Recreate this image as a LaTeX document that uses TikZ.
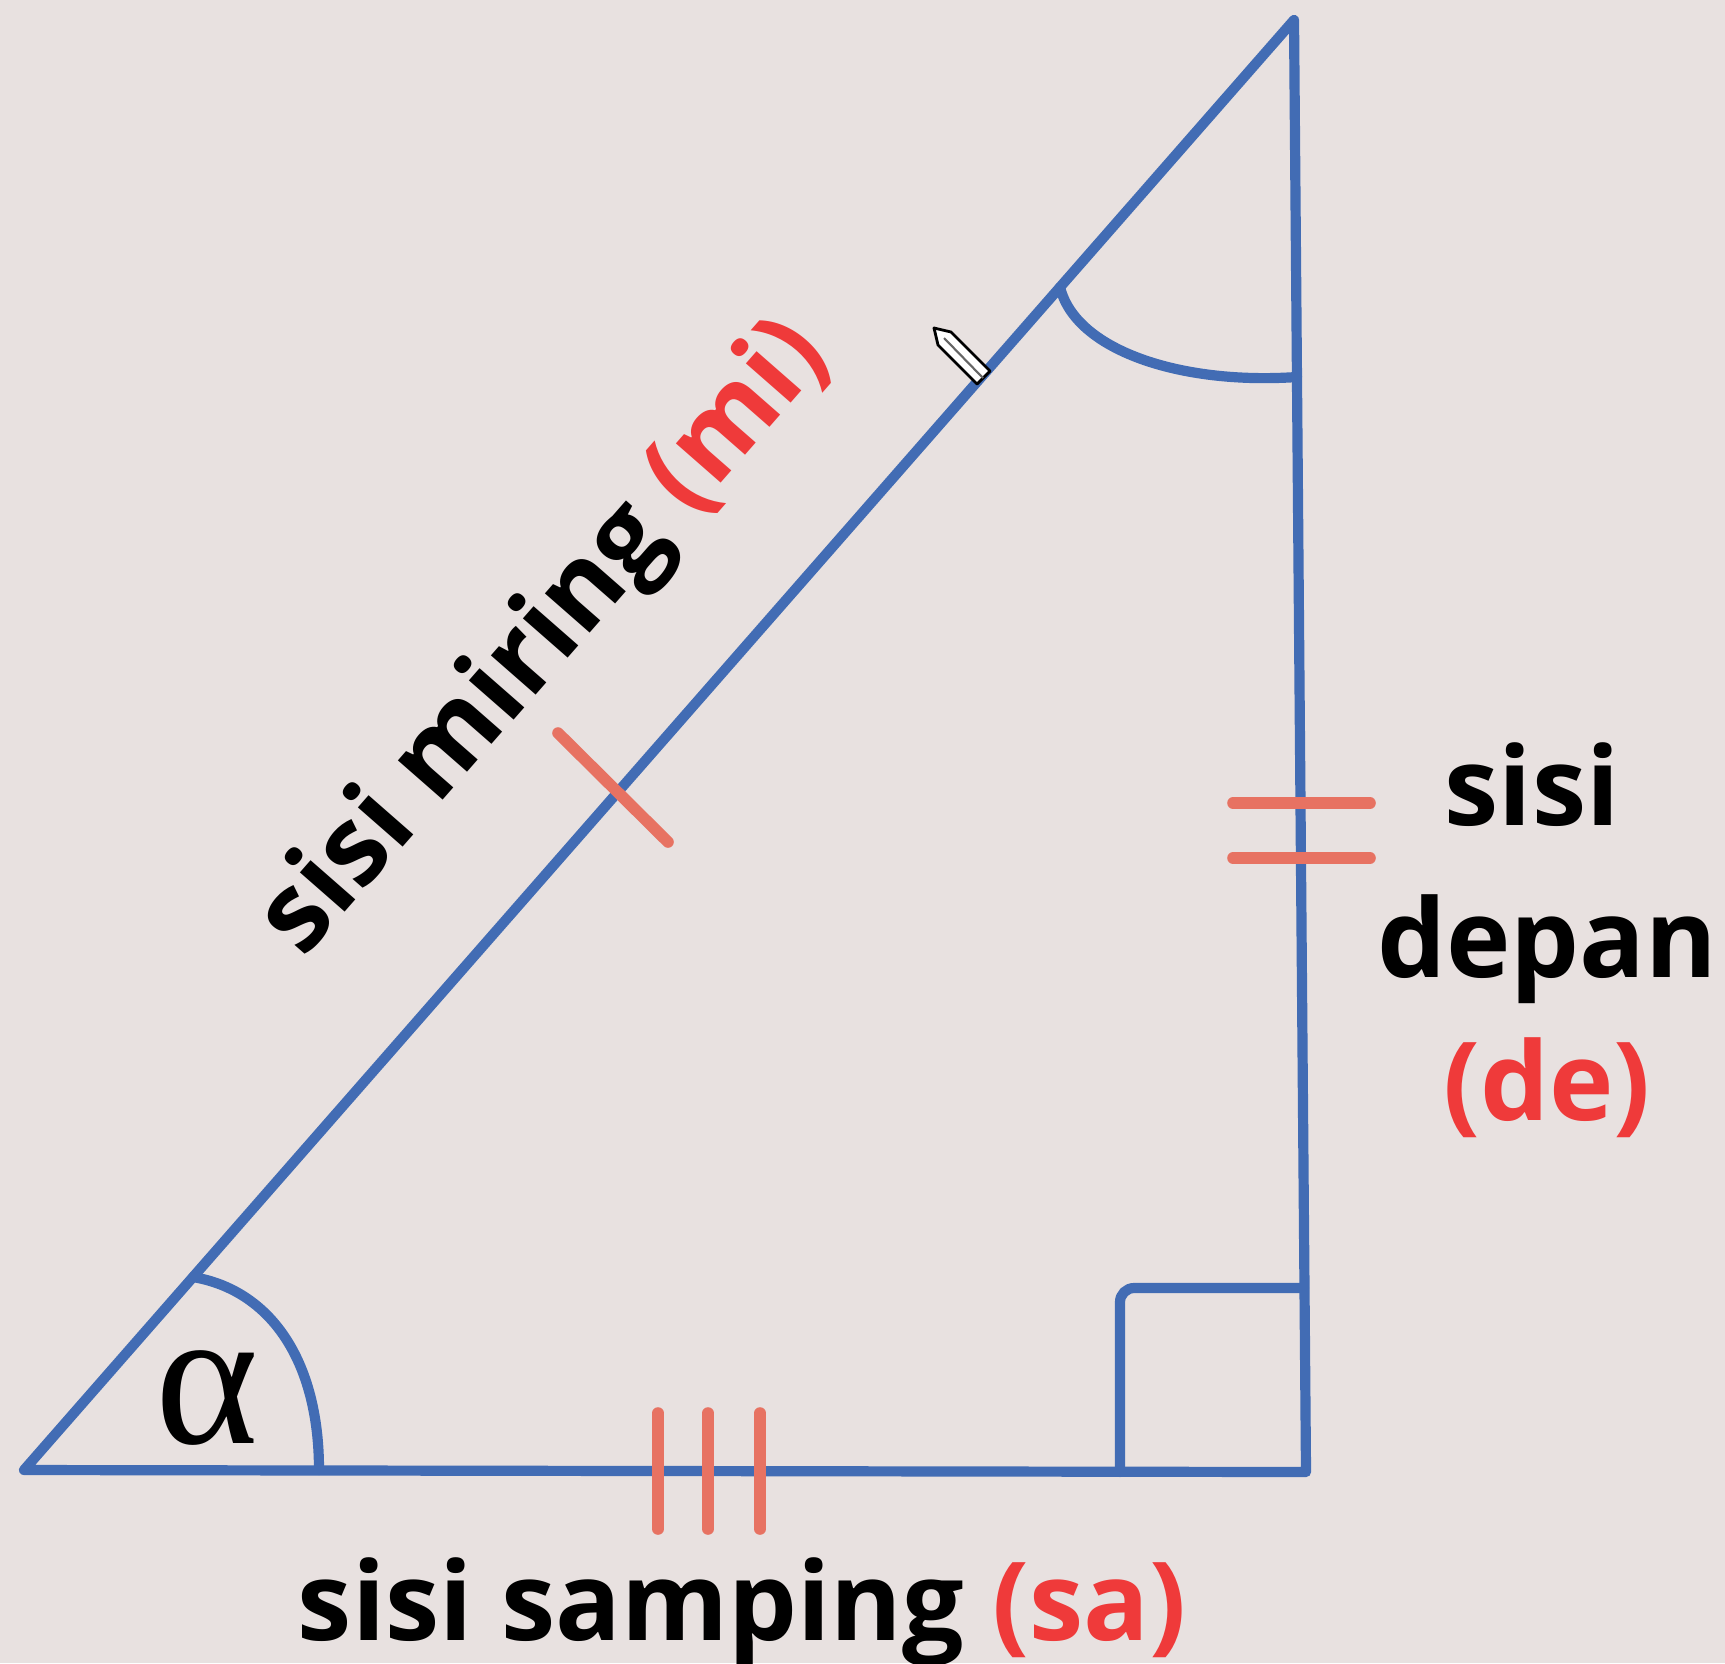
\documentclass[tikz,border=0pt]{standalone}
\usepackage{fontspec}
\setmainfont{Open Sans}
\newfontfamily\alphafont{Liberation Serif}
\usetikzlibrary{positioning,calc}

\definecolor{paper}{RGB}{232,225,224}
\definecolor{penblue}{RGB}{66,108,180}
\definecolor{marksalmon}{RGB}{231,114,98}
\definecolor{namered}{RGB}{239,58,58}

\begin{document}
\begin{tikzpicture}[
  x=0.01cm, y=-0.01cm,
  font=\fontsize{31}{44}\selectfont\bfseries,
  side/.style={draw=penblue, line width=2.9pt, line join=round, line cap=round},
  ticksign/.style={draw=marksalmon, line width=3.3pt, line cap=round},
  lbl/.style={inner sep=0pt, text=black}
]
\fill[paper] (0,0) rectangle (1725,1663);
\useasboundingbox (0,0) rectangle (1725,1663);

\coordinate (A) at (24,1470);
\coordinate (B) at (1294,20);
\coordinate (C) at (1306,1472);

% triangle and corner marks
\draw[side] (A) -- (B) -- (C) -- cycle;
\draw[side, rounded corners=4] (1120,1472) -- (1120,1288) -- (1304,1288);
\draw[side] (319,1470) .. controls (319,1360) and (270,1290) .. (193,1277);
\draw[side] (1060,287) .. controls (1075,350) and (1180,385) .. (1297,377);
\node[lbl, font=\alphafont\fontsize{56}{56}\selectfont, anchor=base] (alpha) at (207,1443) {α};

% equal-side ticks
\draw[ticksign] (558,733) -- (668,842);
\foreach \ty in {803,858}
  \draw[ticksign] (1233,\ty) -- (1370,\ty);
\foreach \tx in {658,708,760}
  \draw[ticksign] (\tx,1413) -- (\tx,1529);

% side names
\node[lbl, rotate=48.8, anchor=base] (miring) at (568,658) {sisi miring \textcolor{namered}{(mi)}};
\node[lbl, anchor=base] (samping) at (742,1640) {sisi samping \textcolor{namered}{(sa)}};
\node[lbl, anchor=base] (sisiDe) at (1532,825) {sisi};
\node[lbl, anchor=base] (depan) at (1547,977) {depan};
\node[lbl, anchor=base, text=namered] (de) at (1547,1120) {(de)};

% pencil cursor
\draw[black, line width=0.8pt, fill=white, line join=round]
  (934,328) -- (951,332) -- (990,371) -- (977,384) -- (938,345) -- cycle;
\draw[black!60, line width=0.6pt] (944,338) -- (983,378);
\end{tikzpicture}
\end{document}
